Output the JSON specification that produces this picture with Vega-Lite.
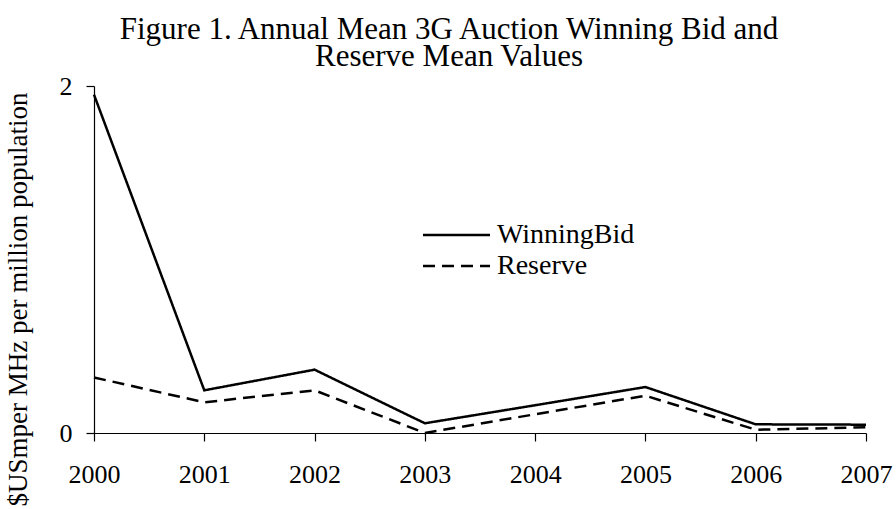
{
  "$schema": "https://vega.github.io/schema/vega-lite/v6.json",
  "width": 772,
  "height": 347,
  "autosize": "none",
  "padding": {"left": 94, "top": 86, "right": 30, "bottom": 76},
  "background": "white",
  "title": {
    "text": ["Figure 1. Annual Mean 3G Auction Winning Bid and", "Reserve Mean Values"],
    "font": "Liberation Serif",
    "fontSize": 31,
    "fontWeight": "normal",
    "color": "black",
    "anchor": "middle",
    "dx": -31,
    "offset": 0,
    "lineHeight": 27
  },
  "data": {
    "values": [
      {"year": "2000", "series": "WinningBid", "value": 1.95},
      {"year": "2001", "series": "WinningBid", "value": 0.246},
      {"year": "2002", "series": "WinningBid", "value": 0.365},
      {"year": "2003", "series": "WinningBid", "value": 0.056},
      {"year": "2004", "series": "WinningBid", "value": 0.16},
      {"year": "2005", "series": "WinningBid", "value": 0.265},
      {"year": "2006", "series": "WinningBid", "value": 0.05},
      {"year": "2007", "series": "WinningBid", "value": 0.048},
      {"year": "2000", "series": "Reserve", "value": 0.32},
      {"year": "2001", "series": "Reserve", "value": 0.177},
      {"year": "2002", "series": "Reserve", "value": 0.246},
      {"year": "2003", "series": "Reserve", "value": 0.0},
      {"year": "2004", "series": "Reserve", "value": 0.108},
      {"year": "2005", "series": "Reserve", "value": 0.215},
      {"year": "2006", "series": "Reserve", "value": 0.019},
      {"year": "2007", "series": "Reserve", "value": 0.033}
    ]
  },
  "mark": {"type": "line", "color": "black", "strokeWidth": 2.5},
  "encoding": {
    "x": {
      "field": "year",
      "type": "ordinal",
      "scale": {"type": "point", "padding": 0},
      "axis": {
        "title": null,
        "labelAngle": 0,
        "labelPadding": 20,
        "tickSize": 8,
        "grid": false
      }
    },
    "y": {
      "field": "value",
      "type": "quantitative",
      "scale": {"domain": [0, 2], "nice": false},
      "axis": {
        "title": "$USmper MHz per million population",
        "titleX": -62,
        "titleY": 213,
        "values": [0, 1, 2],
        "format": "d",
        "labelPadding": 14,
        "tickSize": 8,
        "grid": false
      }
    },
    "strokeDash": {
      "field": "series",
      "type": "nominal",
      "scale": {"domain": ["WinningBid", "Reserve"], "range": [[1, 0], [12, 7]]},
      "legend": {
        "title": null,
        "orient": "none",
        "legendX": 372,
        "legendY": 135,
        "symbolType": "M-5.7,0H1",
        "symbolSize": 400,
        "symbolStrokeWidth": 2.5,
        "symbolStrokeColor": "black",
        "symbolFillColor": "transparent",
        "labelOffset": 3,
        "rowPadding": 3
      }
    }
  },
  "config": {
    "font": "Liberation Serif",
    "view": {"stroke": null},
    "axis": {
      "labelFont": "Liberation Serif",
      "labelFontSize": 26,
      "labelColor": "black",
      "titleFont": "Liberation Serif",
      "titleFontSize": 27,
      "titleFontWeight": "normal",
      "titleColor": "black",
      "tickColor": "black",
      "domainColor": "black",
      "domainWidth": 1.2,
      "tickWidth": 1.2
    },
    "legend": {
      "labelFont": "Liberation Serif",
      "labelFontSize": 28,
      "labelColor": "black"
    }
  }
}
